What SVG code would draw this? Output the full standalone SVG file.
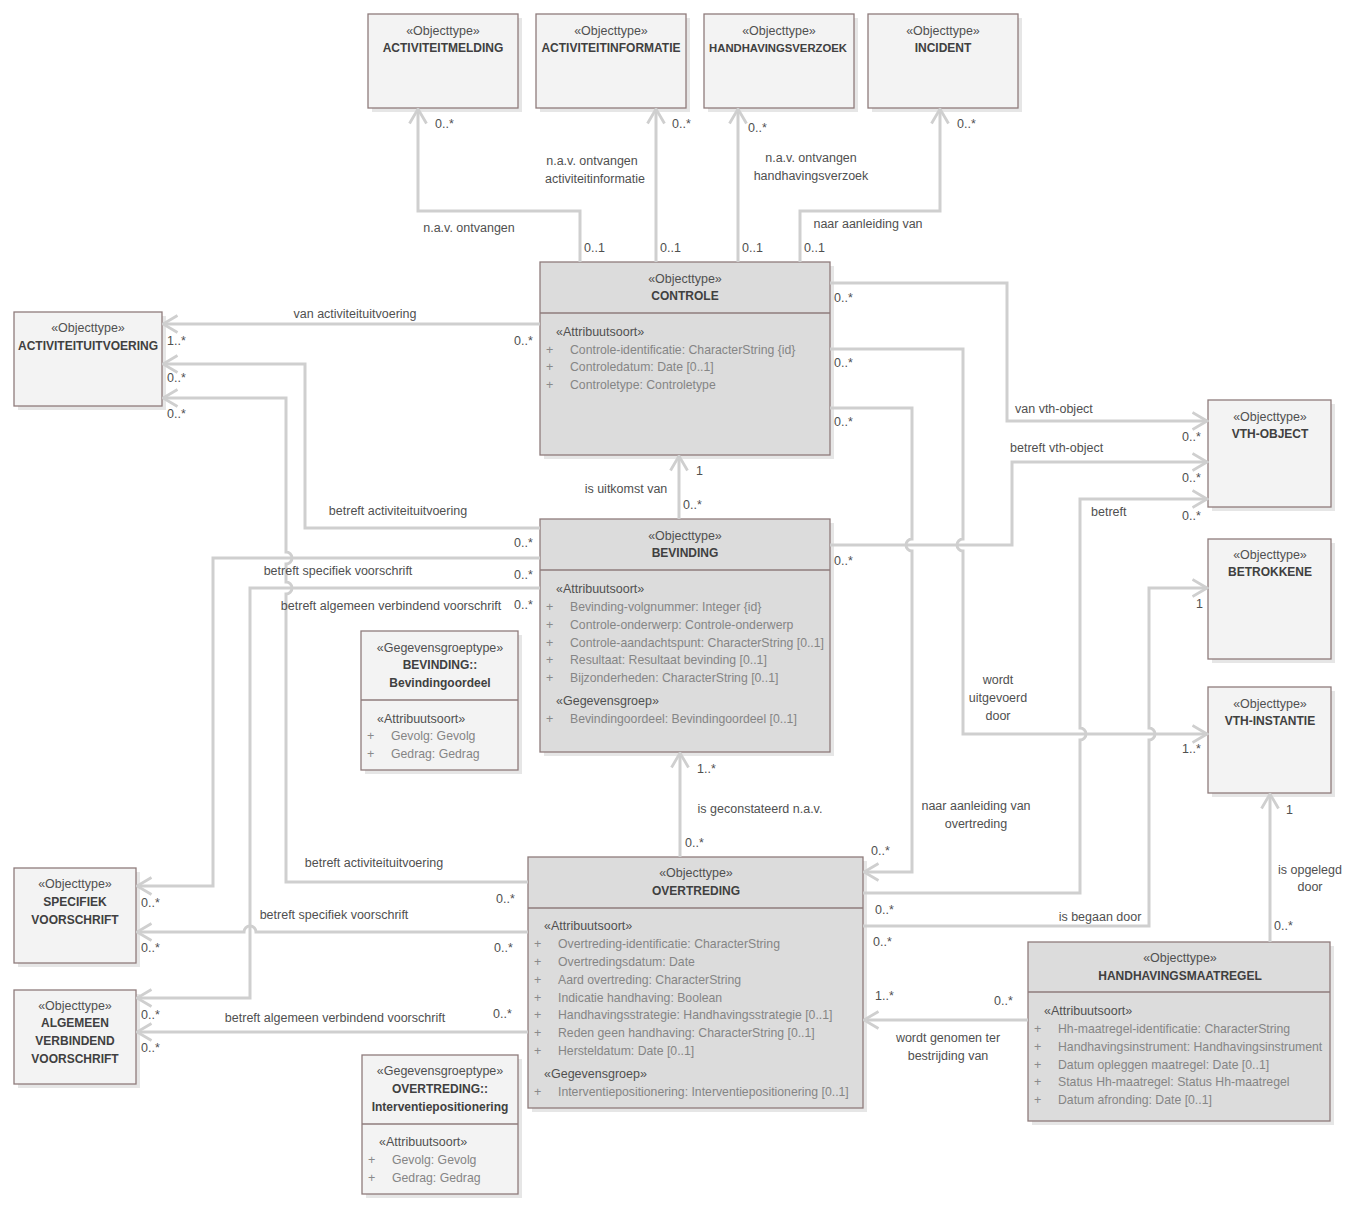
<svg xmlns="http://www.w3.org/2000/svg" width="1348" height="1211" viewBox="0 0 1348 1211">
<style>
text{font-family:"Liberation Sans",Arial,sans-serif;font-size:12.5px;fill:#505050}
.c{text-anchor:middle}
.nm{font-weight:bold;font-size:12px;fill:#404040}
.at{fill:#858585;font-size:12.25px}
.pl{fill:#8a8a8a}
.bl{fill:#f3f3f3;stroke:#8f7c7c;stroke-width:1.3}
.bd{fill:#dcdcdc;stroke:#8f7c7c;stroke-width:1.3}
.sh{fill:#dcdcdc;opacity:0.7}
.dv{stroke:#8f7c7c;stroke-width:1.3}
.cn path{fill:none;stroke:#cfcfcf;stroke-width:3}
</style>
<defs>
<marker id="ar" markerUnits="userSpaceOnUse" viewBox="0 0 17 20" refX="15.5" refY="10" markerWidth="17" markerHeight="20" orient="auto">
<path d="M1,1.5 L15.5,10 L1,18.5" fill="none" stroke="#cfcfcf" stroke-width="2.8"/>
</marker>
</defs>
<rect width="1348" height="1211" fill="#ffffff"/>

<!-- nodes -->
<g id="activiteitmelding">
<rect class="sh" x="372" y="18" width="150" height="94"/>
<rect class="bl" x="368" y="14" width="150" height="94"/>
<text class="c" x="443" y="35">«Objecttype»</text>
<text class="c nm" x="443" y="52">ACTIVITEITMELDING</text>
</g>
<g id="activiteitinformatie">
<rect class="sh" x="540" y="18" width="150" height="94"/>
<rect class="bl" x="536" y="14" width="150" height="94"/>
<text class="c" x="611" y="35">«Objecttype»</text>
<text class="c nm" x="611" y="52">ACTIVITEITINFORMATIE</text>
</g>
<g id="handhavingsverzoek">
<rect class="sh" x="708" y="18" width="150" height="94"/>
<rect class="bl" x="704" y="14" width="150" height="94"/>
<text class="c" x="779" y="35">«Objecttype»</text>
<text class="c nm" x="778" y="52" style="font-size:11.3px">HANDHAVINGSVERZOEK</text>
</g>
<g id="incident">
<rect class="sh" x="872" y="18" width="150" height="94"/>
<rect class="bl" x="868" y="14" width="150" height="94"/>
<text class="c" x="943" y="35">«Objecttype»</text>
<text class="c nm" x="943" y="52">INCIDENT</text>
</g>

<g id="controle">
<rect class="sh" x="544" y="266" width="290" height="193"/>
<rect class="bd" x="540" y="262" width="290" height="193"/>
<line class="dv" x1="540" y1="313" x2="830" y2="313"/>
<text class="c" x="685" y="283">«Objecttype»</text>
<text class="c nm" x="685" y="300">CONTROLE</text>
<text x="556" y="336">«Attribuutsoort»</text>
<text class="pl" x="546" y="354">+</text><text class="at" x="570" y="354">Controle-identificatie: CharacterString {id}</text>
<text class="pl" x="546" y="371">+</text><text class="at" x="570" y="371">Controledatum: Date [0..1]</text>
<text class="pl" x="546" y="389">+</text><text class="at" x="570" y="389">Controletype: Controletype</text>
</g>

<g id="activiteituitvoering">
<rect class="sh" x="18" y="316" width="148" height="94"/>
<rect class="bl" x="14" y="312" width="148" height="94"/>
<text class="c" x="88" y="332">«Objecttype»</text>
<text class="c nm" x="88" y="350">ACTIVITEITUITVOERING</text>
</g>

<g id="vth-object">
<rect class="sh" x="1212" y="404" width="123" height="107"/>
<rect class="bl" x="1208" y="400" width="123" height="107"/>
<text class="c" x="1270" y="421">«Objecttype»</text>
<text class="c nm" x="1270" y="438">VTH-OBJECT</text>
</g>
<g id="betrokkene">
<rect class="sh" x="1212" y="543" width="123" height="120"/>
<rect class="bl" x="1208" y="539" width="123" height="120"/>
<text class="c" x="1270" y="559">«Objecttype»</text>
<text class="c nm" x="1270" y="576">BETROKKENE</text>
</g>
<g id="vth-instantie">
<rect class="sh" x="1212" y="691" width="123" height="106"/>
<rect class="bl" x="1208" y="687" width="123" height="106"/>
<text class="c" x="1270" y="708">«Objecttype»</text>
<text class="c nm" x="1270" y="725">VTH-INSTANTIE</text>
</g>

<g id="bevinding">
<rect class="sh" x="544" y="523" width="290" height="233"/>
<rect class="bd" x="540" y="519" width="290" height="233"/>
<line class="dv" x1="540" y1="570" x2="830" y2="570"/>
<text class="c" x="685" y="540">«Objecttype»</text>
<text class="c nm" x="685" y="557">BEVINDING</text>
<text x="556" y="593">«Attribuutsoort»</text>
<text class="pl" x="546" y="611">+</text><text class="at" x="570" y="611">Bevinding-volgnummer: Integer {id}</text>
<text class="pl" x="546" y="629">+</text><text class="at" x="570" y="629">Controle-onderwerp: Controle-onderwerp</text>
<text class="pl" x="546" y="647">+</text><text class="at" x="570" y="647">Controle-aandachtspunt: CharacterString [0..1]</text>
<text class="pl" x="546" y="664">+</text><text class="at" x="570" y="664">Resultaat: Resultaat bevinding [0..1]</text>
<text class="pl" x="546" y="682">+</text><text class="at" x="570" y="682">Bijzonderheden: CharacterString [0..1]</text>
<text x="556" y="705">«Gegevensgroep»</text>
<text class="pl" x="546" y="723">+</text><text class="at" x="570" y="723">Bevindingoordeel: Bevindingoordeel [0..1]</text>
</g>

<g id="bevindingoordeel">
<rect class="sh" x="365" y="635" width="157" height="139"/>
<rect class="bl" x="361" y="631" width="157" height="139"/>
<line class="dv" x1="361" y1="700" x2="518" y2="700"/>
<text class="c" x="440" y="652">«Gegevensgroeptype»</text>
<text class="c nm" x="440" y="669">BEVINDING::</text>
<text class="c nm" x="440" y="687">Bevindingoordeel</text>
<text x="377" y="723">«Attribuutsoort»</text>
<text class="pl" x="367" y="740">+</text><text class="at" x="391" y="740">Gevolg: Gevolg</text>
<text class="pl" x="367" y="758">+</text><text class="at" x="391" y="758">Gedrag: Gedrag</text>
</g>

<g id="overtreding">
<rect class="sh" x="532" y="861" width="335" height="251"/>
<rect class="bd" x="528" y="857" width="335" height="251"/>
<line class="dv" x1="528" y1="908" x2="863" y2="908"/>
<text class="c" x="696" y="877">«Objecttype»</text>
<text class="c nm" x="696" y="895">OVERTREDING</text>
<text x="544" y="930">«Attribuutsoort»</text>
<text class="pl" x="534" y="948">+</text><text class="at" x="558" y="948">Overtreding-identificatie: CharacterString</text>
<text class="pl" x="534" y="966">+</text><text class="at" x="558" y="966">Overtredingsdatum: Date</text>
<text class="pl" x="534" y="984">+</text><text class="at" x="558" y="984">Aard overtreding: CharacterString</text>
<text class="pl" x="534" y="1002">+</text><text class="at" x="558" y="1002">Indicatie handhaving: Boolean</text>
<text class="pl" x="534" y="1019">+</text><text class="at" x="558" y="1019">Handhavingsstrategie: Handhavingsstrategie [0..1]</text>
<text class="pl" x="534" y="1037">+</text><text class="at" x="558" y="1037">Reden geen handhaving: CharacterString [0..1]</text>
<text class="pl" x="534" y="1055">+</text><text class="at" x="558" y="1055">Hersteldatum: Date [0..1]</text>
<text x="544" y="1078">«Gegevensgroep»</text>
<text class="pl" x="534" y="1096">+</text><text class="at" x="558" y="1096">Interventiepositionering: Interventiepositionering [0..1]</text>
</g>

<g id="interventiepositionering">
<rect class="sh" x="366" y="1059" width="156" height="139"/>
<rect class="bl" x="362" y="1055" width="156" height="139"/>
<line class="dv" x1="362" y1="1124" x2="518" y2="1124"/>
<text class="c" x="440" y="1075">«Gegevensgroeptype»</text>
<text class="c nm" x="440" y="1093">OVERTREDING::</text>
<text class="c nm" x="440" y="1111">Interventiepositionering</text>
<text x="379" y="1146">«Attribuutsoort»</text>
<text class="pl" x="368" y="1164">+</text><text class="at" x="392" y="1164">Gevolg: Gevolg</text>
<text class="pl" x="368" y="1182">+</text><text class="at" x="392" y="1182">Gedrag: Gedrag</text>
</g>

<g id="specifiek-voorschrift">
<rect class="sh" x="18" y="872" width="122" height="95"/>
<rect class="bl" x="14" y="868" width="122" height="95"/>
<text class="c" x="75" y="888">«Objecttype»</text>
<text class="c nm" x="75" y="906">SPECIFIEK</text>
<text class="c nm" x="75" y="924">VOORSCHRIFT</text>
</g>
<g id="algemeen-verbindend-voorschrift">
<rect class="sh" x="18" y="994" width="122" height="94"/>
<rect class="bl" x="14" y="990" width="122" height="94"/>
<text class="c" x="75" y="1010">«Objecttype»</text>
<text class="c nm" x="75" y="1027">ALGEMEEN</text>
<text class="c nm" x="75" y="1045">VERBINDEND</text>
<text class="c nm" x="75" y="1063">VOORSCHRIFT</text>
</g>

<g id="handhavingsmaatregel">
<rect class="sh" x="1032" y="946" width="302" height="179"/>
<rect class="bd" x="1028" y="942" width="302" height="179"/>
<line class="dv" x1="1028" y1="992" x2="1330" y2="992"/>
<text class="c" x="1180" y="962">«Objecttype»</text>
<text class="c nm" x="1180" y="980">HANDHAVINGSMAATREGEL</text>
<text x="1044" y="1015">«Attribuutsoort»</text>
<text class="pl" x="1034" y="1033">+</text><text class="at" x="1058" y="1033">Hh-maatregel-identificatie: CharacterString</text>
<text class="pl" x="1034" y="1051">+</text><text class="at" x="1058" y="1051">Handhavingsinstrument: Handhavingsinstrument</text>
<text class="pl" x="1034" y="1069">+</text><text class="at" x="1058" y="1069">Datum opleggen maatregel: Date [0..1]</text>
<text class="pl" x="1034" y="1086">+</text><text class="at" x="1058" y="1086">Status Hh-maatregel: Status Hh-maatregel</text>
<text class="pl" x="1034" y="1104">+</text><text class="at" x="1058" y="1104">Datum afronding: Date [0..1]</text>
</g>

<!-- connectors -->
<g id="connectors" class="cn">
<path marker-end="url(#ar)" d="M580,262 V211 H418 V109"/>
<path marker-end="url(#ar)" d="M656,262 V109"/>
<path marker-end="url(#ar)" d="M738,262 V109"/>
<path marker-end="url(#ar)" d="M800,262 V211 H940 V109"/>
<path marker-end="url(#ar)" d="M540,324 H163"/>
<path marker-end="url(#ar)" d="M540,528 H305 V364 H163"/>
<path marker-end="url(#ar)" d="M528,882 H286 V594 A6,6 0 0 0 286,582 V564 A6,6 0 0 0 286,552 V398 H163"/>
<path marker-end="url(#ar)" d="M540,558 H213 V886 H137"/>
<path marker-end="url(#ar)" d="M540,588 H250 V998 H137"/>
<path marker-end="url(#ar)" d="M528,932 H256 A6,6 0 0 0 244,932 H137"/>
<path marker-end="url(#ar)" d="M528,1032 H137"/>
<path marker-end="url(#ar)" d="M679,519 V456"/>
<path marker-end="url(#ar)" d="M680,857 V753"/>
<path marker-end="url(#ar)" d="M830,283 H1007 V421 H1207"/>
<path marker-end="url(#ar)" d="M830,545 H1012 V462 H1207"/>
<path marker-end="url(#ar)" d="M863,893 H1080 V740 A6,6 0 0 0 1080,728 V499 H1207"/>
<path marker-end="url(#ar)" d="M863,926 H1149 V740 A6,6 0 0 0 1149,728 V588 H1207"/>
<path marker-end="url(#ar)" d="M830,349 H963 V539 A6,6 0 0 0 963,551 V734 H1207"/>
<path marker-end="url(#ar)" d="M830,408 H912 V539 A6,6 0 0 0 912,551 V872 H864"/>
<path marker-end="url(#ar)" d="M1270,942 V794"/>
<path marker-end="url(#ar)" d="M1028,1020 H864"/>
</g>

<!-- connector labels -->
<g id="labels">
<text x="435" y="128">0..*</text>
<text x="672" y="128">0..*</text>
<text x="748" y="132">0..*</text>
<text x="957" y="128">0..*</text>
<text class="c" x="592" y="165">n.a.v. ontvangen</text>
<text class="c" x="595" y="183">activiteitinformatie</text>
<text class="c" x="811" y="162">n.a.v. ontvangen</text>
<text class="c" x="811" y="180">handhavingsverzoek</text>
<text class="c" x="469" y="232">n.a.v. ontvangen</text>
<text class="c" x="868" y="228">naar aanleiding van</text>
<text x="584" y="252">0..1</text>
<text x="660" y="252">0..1</text>
<text x="742" y="252">0..1</text>
<text x="804" y="252">0..1</text>

<text class="c" x="355" y="318">van activiteituitvoering</text>
<text x="167" y="345">1..*</text>
<text x="514" y="345">0..*</text>
<text x="167" y="382">0..*</text>
<text x="167" y="418">0..*</text>
<text class="c" x="398" y="515">betreft activiteituitvoering</text>
<text x="514" y="547">0..*</text>
<text class="c" x="338" y="575">betreft specifiek voorschrift</text>
<text x="514" y="579">0..*</text>
<text class="c" x="391" y="610">betreft algemeen verbindend voorschrift</text>
<text x="514" y="609">0..*</text>

<text x="834" y="302">0..*</text>
<text x="834" y="367">0..*</text>
<text x="834" y="426">0..*</text>
<text x="1015" y="413">van vth-object</text>
<text x="1182" y="441">0..*</text>
<text x="1010" y="452">betreft vth-object</text>
<text x="1182" y="482">0..*</text>
<text x="1091" y="516">betreft</text>
<text x="1182" y="520">0..*</text>
<text x="834" y="565">0..*</text>
<text x="1196" y="608">1</text>
<text class="c" x="998" y="684">wordt</text>
<text class="c" x="998" y="702">uitgevoerd</text>
<text class="c" x="998" y="720">door</text>
<text x="1182" y="753">1..*</text>
<text x="1286" y="814">1</text>
<text class="c" x="1310" y="874">is opgelegd</text>
<text class="c" x="1310" y="891">door</text>
<text x="1274" y="930">0..*</text>

<text x="696" y="475">1</text>
<text class="c" x="626" y="493">is uitkomst van</text>
<text x="683" y="509">0..*</text>
<text x="697" y="773">1..*</text>
<text class="c" x="760" y="813">is geconstateerd n.a.v.</text>
<text x="685" y="847">0..*</text>

<text class="c" x="976" y="810">naar aanleiding van</text>
<text class="c" x="976" y="828">overtreding</text>
<text x="871" y="855">0..*</text>
<text x="875" y="914">0..*</text>
<text class="c" x="1100" y="921">is begaan door</text>
<text x="873" y="946">0..*</text>
<text x="875" y="1000">1..*</text>
<text x="994" y="1005">0..*</text>
<text class="c" x="948" y="1042">wordt genomen ter</text>
<text class="c" x="948" y="1060">bestrijding van</text>

<text class="c" x="374" y="867">betreft activiteituitvoering</text>
<text x="496" y="903">0..*</text>
<text x="141" y="907">0..*</text>
<text class="c" x="334" y="919">betreft specifiek voorschrift</text>
<text x="141" y="952">0..*</text>
<text x="494" y="952">0..*</text>
<text class="c" x="335" y="1022">betreft algemeen verbindend voorschrift</text>
<text x="493" y="1018">0..*</text>
<text x="141" y="1019">0..*</text>
<text x="141" y="1052">0..*</text>
</g>
</svg>
